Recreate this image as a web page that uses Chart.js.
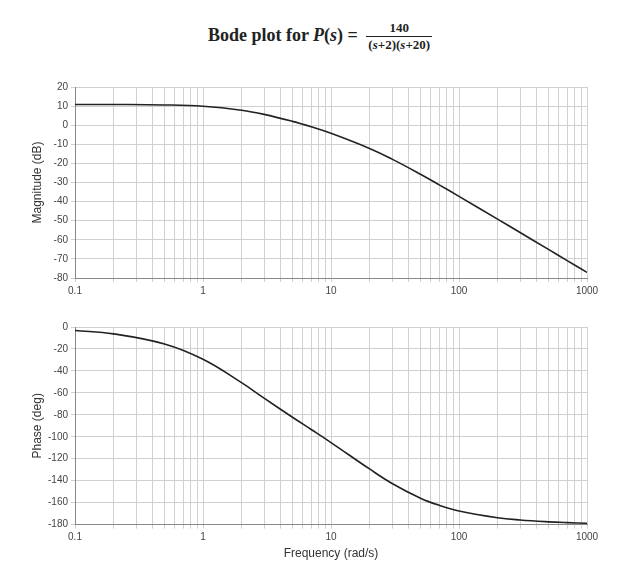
<!DOCTYPE html>
<html><head><meta charset="utf-8">
<script src="https://cdn.jsdelivr.net/npm/chart.js@4"></script>
<style>
body{margin:0;background:#fff;width:640px;height:561px;position:relative;overflow:hidden}
#title{position:absolute;top:20px;left:0;width:640px;text-align:center;font-family:"Liberation Serif",serif;font-weight:bold;font-size:18px;color:#222}
.frac{display:inline-block;vertical-align:middle;text-align:center;font-size:13px;margin-left:4px}
.frac span{display:block;padding:0 2px}
.frac .num{border-bottom:1px solid #222}
#c1w{position:absolute;left:0;top:78px;width:640px;height:222px}
#c2w{position:absolute;left:0;top:318px;width:640px;height:243px}
</style></head><body>
<div id="title">Bode plot for <i>P</i>(<i>s</i>) = <span class="frac"><span class="num">140</span><span>(<i>s</i>+2)(<i>s</i>+20)</span></span></div>
<div id="c1w"><canvas id="c1"></canvas></div>
<div id="c2w"><canvas id="c2"></canvas></div>
<script>
const freq=[0.1,0.2,0.5,1,2,3,5,7,10,20,30,50,70,100,200,300,500,700,1000];
const magnitude=[10.87,10.84,10.61,9.90,7.83,5.67,2.01,-0.84,-4.24,-12.17,-17.78,-25.69,-31.23,-37.25,-49.16,-56.18,-65.04,-70.88,-77.08];
const phase=[-3.15,-6.28,-15.47,-29.43,-50.71,-64.84,-82.24,-93.34,-105.26,-129.29,-142.5,-155.91,-162.41,-167.54,-173.72,-175.81,-177.48,-178.2,-178.74];
const decadeLabels=[0.1,1,10,100,1000];
const font={family:"Liberation Sans, Arial, sans-serif",size:10};
function mk(id,vals,ymin,ymax,step,ytitle,xtitle){
  new Chart(document.getElementById(id),{type:'line',
    data:{datasets:[{data:freq.map((f,i)=>({x:f,y:vals[i]})),borderColor:'#222',borderWidth:1.6,pointRadius:0,tension:0.4,fill:false}]},
    options:{responsive:true,maintainAspectRatio:false,animation:false,
      layout:{padding:{left:30,right:53,top:6}},
      plugins:{legend:{display:false},tooltip:{enabled:false}},
      scales:{
        x:{type:'logarithmic',min:0.1,max:1000,
          grid:{color:'#d0d0d0',drawTicks:true,tickLength:4},border:{color:'#888'},
          afterBuildTicks:ax=>{const t=[];for(let e=-1;e<3;e++)for(let k=1;k<10;k++)t.push({value:k*Math.pow(10,e)});t.push({value:1000});ax.ticks=t;},
          ticks:{autoSkip:false,maxRotation:0,color:'#444',font,callback:v=>decadeLabels.some(d=>Math.abs(d-v)<1e-9)?String(v):''},
          title:{display:!!xtitle,text:xtitle,color:'#333',font:{family:font.family,size:12},padding:0}},
        y:{min:ymin,max:ymax,ticks:{stepSize:step,color:'#444',font},
          grid:{color:'#d0d0d0',tickLength:4},border:{color:'#888'},
          afterFit:ax=>{ax.width=45;},
          title:{display:true,text:ytitle,color:'#333',font:{family:font.family,size:12},padding:0}}
      }}});
}
mk('c1',magnitude,-80,20,10,'Magnitude (dB)','');
mk('c2',phase,-180,0,20,'Phase (deg)','Frequency (rad/s)');
</script></body></html>
